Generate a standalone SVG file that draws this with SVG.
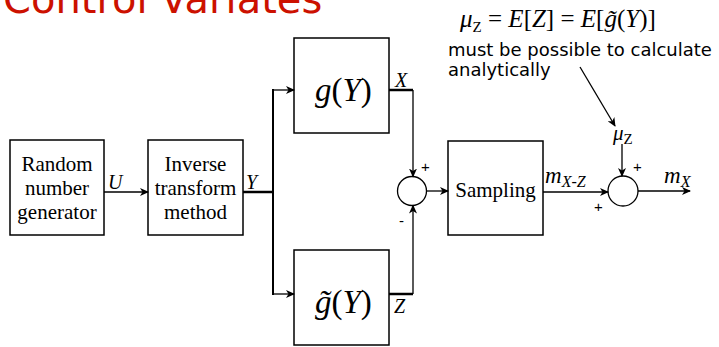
<svg xmlns="http://www.w3.org/2000/svg" width="719" height="347" viewBox="0 0 719 347">
<style>
.box{fill:#fff;stroke:#000;stroke-width:1.5}
.ln{fill:none;stroke:#000;stroke-width:1.3}
.thk{fill:none;stroke:#000;stroke-width:2.5}
.tm{font-family:"Liberation Serif",serif;font-size:21px;fill:#000}
.it{font-family:"Liberation Serif",serif;font-style:italic;fill:#000}
.up{font-style:normal}
.sn{font-family:"DejaVu Sans",sans-serif;fill:#000}
.sg{font-family:"Liberation Sans",sans-serif;font-size:15px;fill:#000}
</style>
<defs>
<marker id="ah" markerWidth="9" markerHeight="8" refX="8" refY="4" orient="auto" markerUnits="userSpaceOnUse">
<path d="M0,0 L9,4 L0,8 L2.5,4 Z" fill="#000"/>
</marker>
</defs>
<text x="3" y="13" font-family="DejaVu Sans,sans-serif" font-size="40" fill="#cc1100">Control Variates</text>

<g id="rng">
<rect class="box" x="10" y="140" width="94" height="95"/>
<text class="tm" text-anchor="middle"><tspan x="57" y="171">Random</tspan><tspan x="57" y="195">number</tspan><tspan x="57" y="219">generator</tspan></text>
</g>
<g id="inv">
<rect class="box" x="148" y="140" width="95" height="95"/>
<text class="tm" text-anchor="middle"><tspan x="195.5" y="171">Inverse</tspan><tspan x="195.5" y="195">transform</tspan><tspan x="195.5" y="219">method</tspan></text>
</g>
<g id="g">
<rect class="box" x="294" y="38" width="95" height="95"/>
<text class="it" x="315" y="101" font-size="33">g<tspan class="up">(</tspan>Y<tspan class="up">)</tspan></text>
</g>
<g id="gt">
<rect class="box" x="294" y="250" width="95" height="95"/>
<text class="it" x="315" y="313" font-size="33">g&#x303;<tspan class="up">(</tspan>Y<tspan class="up">)</tspan></text>
</g>
<g id="sum1">
<circle class="ln" cx="412" cy="191" r="14.5" stroke-width="1.5"/>
</g>
<g id="samp">
<rect class="box" x="448" y="141" width="95" height="94"/>
<text class="tm" x="495.5" y="197" text-anchor="middle" font-size="20.5">Sampling</text>
</g>
<g id="sum2">
<circle class="ln" cx="623" cy="191" r="15" stroke-width="1.5"/>
</g>
<g id="note">
<text class="it" x="460" y="27" font-size="25">μ<tspan class="up" font-size="15" dy="5">Z</tspan><tspan class="up" dy="-5"> = </tspan>E<tspan class="up">[</tspan>Z<tspan class="up">] = </tspan>E<tspan class="up">[</tspan>g&#x303;<tspan class="up">(</tspan>Y<tspan class="up">)]</tspan></text>
<text class="sn" font-size="18"><tspan x="448" y="56">must be possible to calculate</tspan><tspan x="448" y="76">analytically</tspan></text>
</g>

<g id="connectors">
<line class="ln" x1="104" y1="192" x2="148" y2="192" marker-end="url(#ah)"/>
<polyline class="thk" points="243,192 273,192"/>
<line x1="273" y1="89" x2="273" y2="295" stroke="#000" stroke-width="2"/>
<line class="ln" x1="273" y1="90" x2="294" y2="90" marker-end="url(#ah)"/>
<line class="ln" x1="273" y1="294" x2="294" y2="294" marker-end="url(#ah)"/>
<polyline class="thk" points="389,90 413,90"/>
<line class="ln" x1="413" y1="90" x2="413" y2="176.5" marker-end="url(#ah)"/>
<polyline class="thk" points="389,294 413,294"/>
<line class="ln" x1="413" y1="294" x2="413" y2="205.5" marker-end="url(#ah)"/>
<line class="ln" x1="426.5" y1="191" x2="448" y2="191" marker-end="url(#ah)"/>
<line class="ln" x1="543" y1="192" x2="608" y2="192" marker-end="url(#ah)"/>
<line class="ln" x1="622" y1="144" x2="622" y2="176" marker-end="url(#ah)"/>
<line class="ln" x1="638" y1="191" x2="690" y2="191" marker-end="url(#ah)"/>
<line class="ln" x1="580" y1="67" x2="615" y2="126" marker-end="url(#ah)"/>
<text class="it" x="108" y="189" font-size="20">U</text>
<text class="it" x="246" y="189" font-size="20">Y</text>
<text class="it" x="395" y="87" font-size="20">X</text>
<text class="it" x="394" y="313" font-size="20">Z</text>
<text class="it" x="545" y="183" font-size="23">m<tspan font-size="16" dy="4">X-Z</tspan></text>
<text class="it" x="664" y="183" font-size="23">m<tspan font-size="16" dy="4">X</tspan></text>
<text class="it" x="613" y="140" font-size="21">μ<tspan class="up" font-size="15" dy="4">Z</tspan></text>
<text class="sg" x="421" y="172">+</text>
<text class="sg" x="399" y="226">-</text>
<text class="sg" x="633" y="172">+</text>
<text class="sg" x="594" y="212">+</text>
</g>
</svg>
